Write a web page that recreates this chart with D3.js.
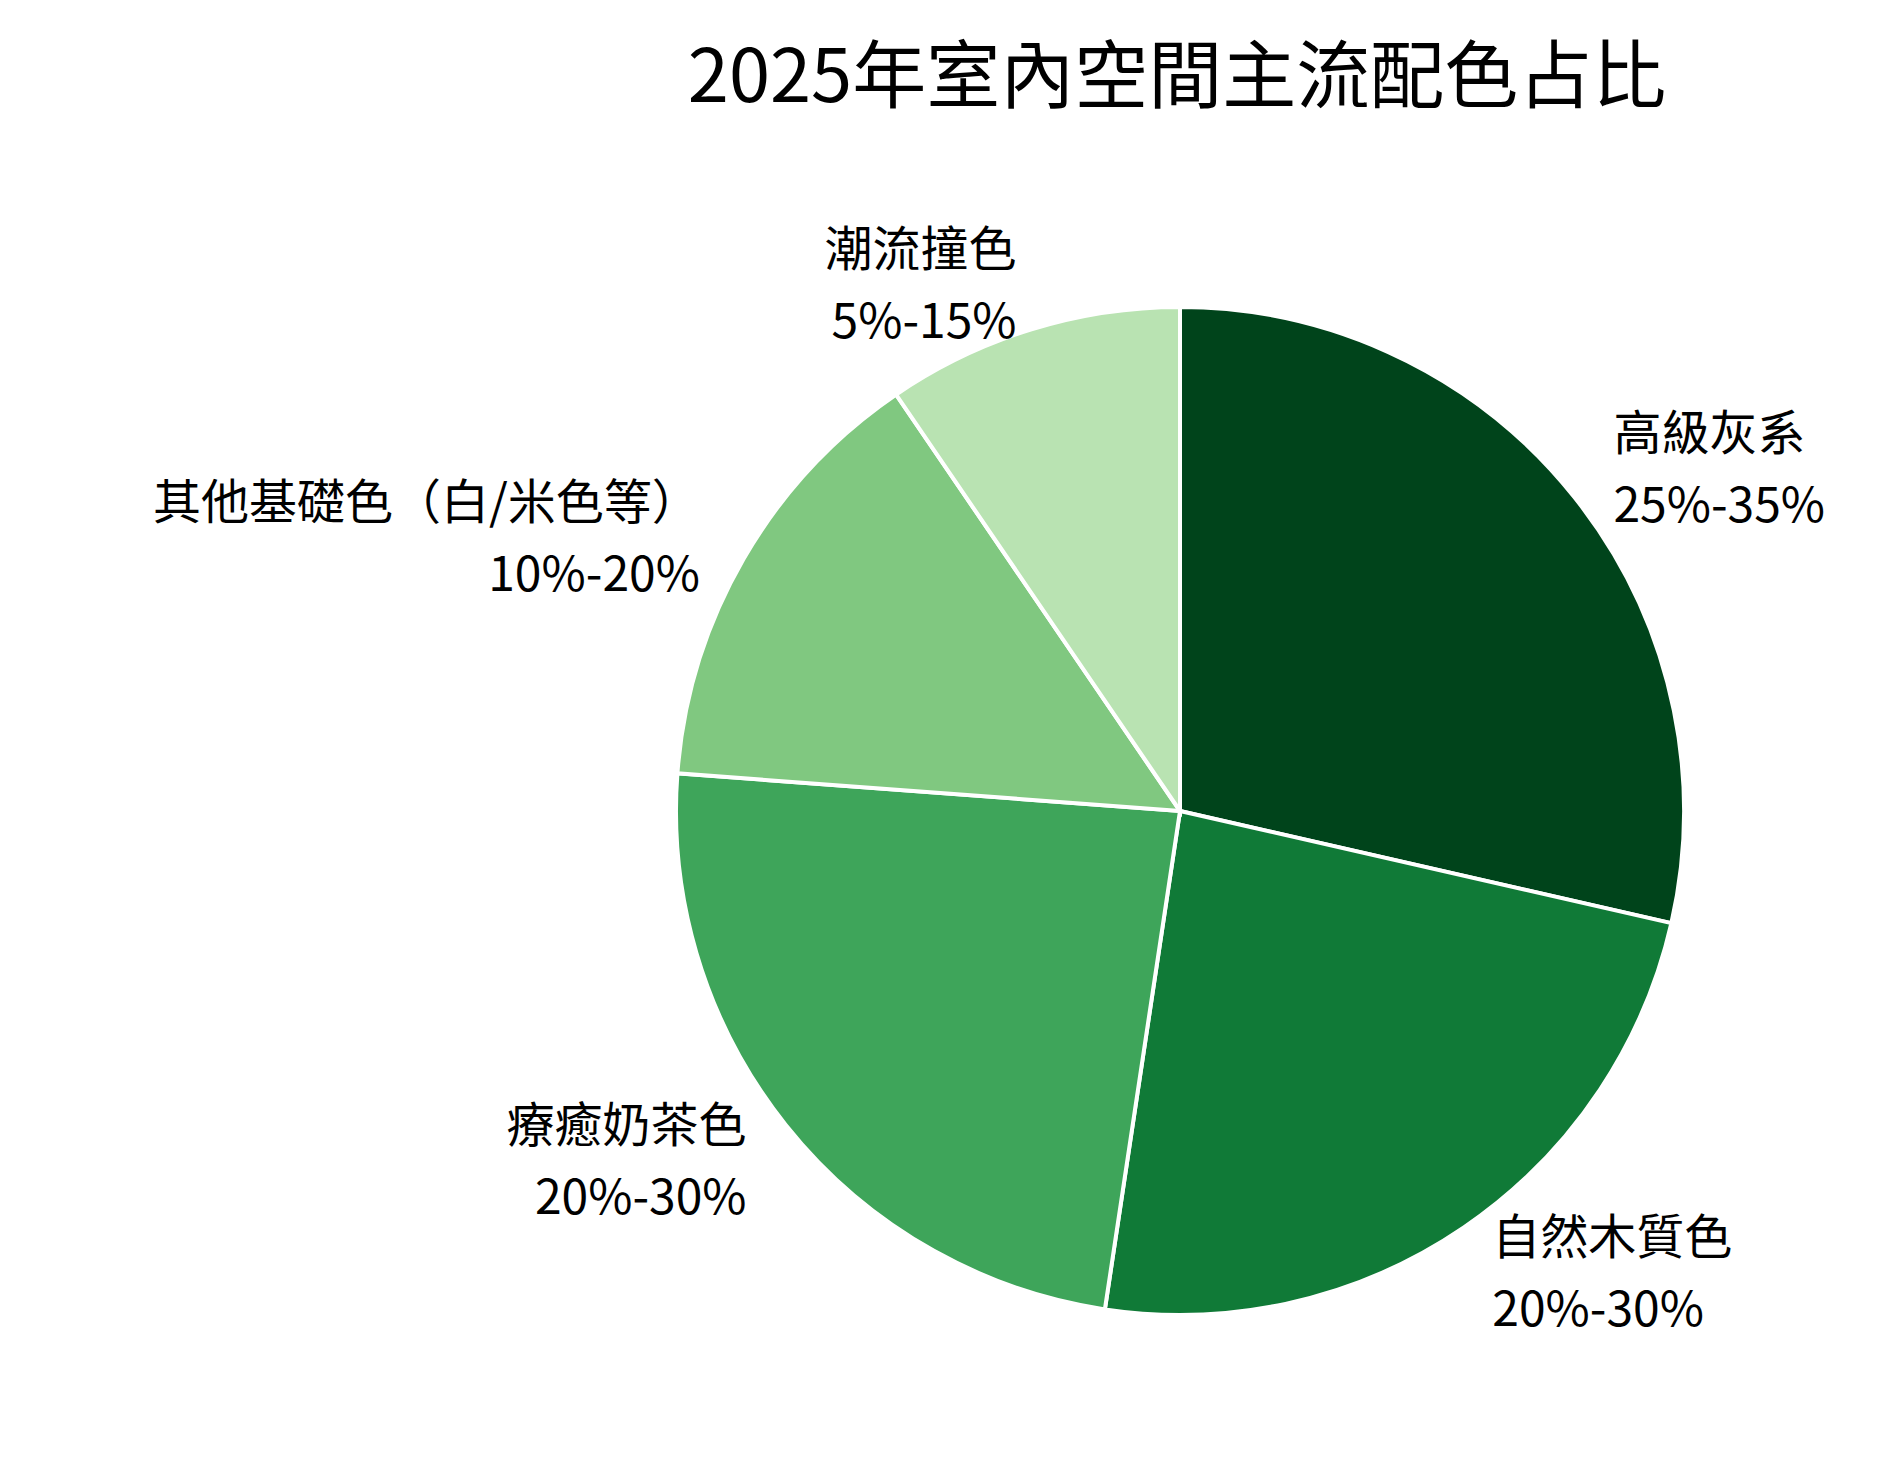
<!DOCTYPE html>
<html><head><meta charset="utf-8">
<script src="https://cdn.jsdelivr.net/npm/d3@7"></script>
<style>body{margin:0;background:#fff;font-family:"Noto Sans CJK TC","Noto Sans",sans-serif;}</style>
</head><body>
<svg id="chart" width="1893" height="1468"></svg>
<script>
"use strict";

// data (midpoints of each range)
const names = ["高級灰系", "自然木質色", "療癒奶茶色", "其他基礎色（白/米色等）", "潮流撞色"];
const ranges = ["25%-35%", "20%-30%", "20%-30%", "10%-20%", "5%-15%"];
const values = [30, 25, 25, 15, 10];
const colors = ["#00441b", "#107a37", "#3ea55a", "#80c880", "#b9e3b2"];

const svg = d3.select("#chart");
const cx = 1180, cy = 811, r = 504;

svg.append("text").attr("x", 1177).attr("y", 69)
    .attr("text-anchor", "middle").attr("dominant-baseline", "central")
    .attr("font-size", 74).text("2025年室內空間主流配色占比");

const pie = d3.pie().sort(null).value(d => d)(values);
const arc = d3.arc().innerRadius(0).outerRadius(r);
const labelArc = d3.arc().innerRadius(r * 1.1).outerRadius(r * 1.1);

const g = svg.append("g").attr("transform", `translate(${cx},${cy})`);
g.selectAll("path").data(pie).enter().append("path")
    .attr("d", arc)
    .attr("fill", (d, i) => colors[i])
    .attr("stroke", "#fff").attr("stroke-width", 4);

const lab = g.selectAll("text.lab").data(pie).enter().append("text")
    .attr("class", "lab")
    .attr("font-size", 48)
    .attr("text-anchor", d => labelArc.centroid(d)[0] > 0 ? "start" : "end")
    .attr("transform", d => `translate(${labelArc.centroid(d)})`);
lab.append("tspan").attr("x", 0).attr("y", -36).attr("dominant-baseline", "central")
    .text((d, i) => names[i]);
lab.append("tspan").attr("x", 0).attr("y", 36).attr("dominant-baseline", "central")
    .text((d, i) => ranges[i]);
</script>
</body></html>
